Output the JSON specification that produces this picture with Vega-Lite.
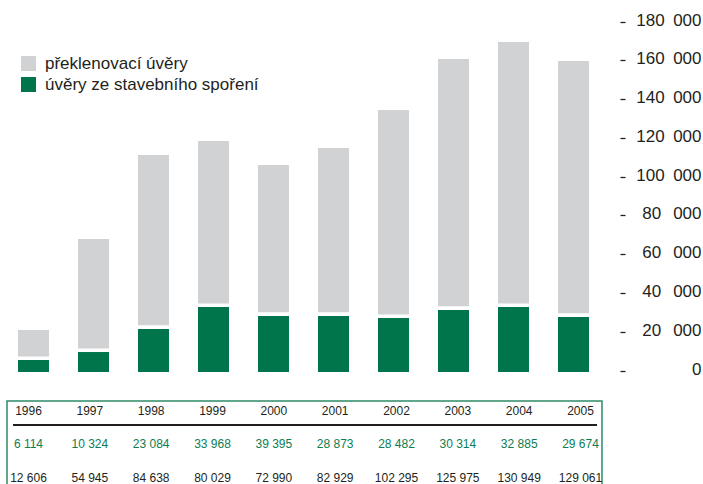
{
  "$schema": "https://vega.github.io/schema/vega-lite/v6.json",
  "padding": {"left": 6, "top": 11, "right": 0, "bottom": 0},
  "background": "white",
  "config": {"font": "Liberation Sans", "view": {"stroke": null}, "axis": {"labelOverlap": false}},
  "spacing": 23,
  "datasets": {
    "sloupce": [
      {"rok": "1996", "stavebni": 6200, "celkem": 21700},
      {"rok": "1997", "stavebni": 10300, "celkem": 68600},
      {"rok": "1998", "stavebni": 22200, "celkem": 111900},
      {"rok": "1999", "stavebni": 33500, "celkem": 119100},
      {"rok": "2000", "stavebni": 28900, "celkem": 106800},
      {"rok": "2001", "stavebni": 28900, "celkem": 115500},
      {"rok": "2002", "stavebni": 27800, "celkem": 135100},
      {"rok": "2003", "stavebni": 32000, "celkem": 161400},
      {"rok": "2004", "stavebni": 33500, "celkem": 170200},
      {"rok": "2005", "stavebni": 28400, "celkem": 160400}
    ],
    "tabulka": [
      {"rok": "1996", "stavebni": "6 114", "preklenovaci": "12 606"},
      {"rok": "1997", "stavebni": "10 324", "preklenovaci": "54 945"},
      {"rok": "1998", "stavebni": "23 084", "preklenovaci": "84 638"},
      {"rok": "1999", "stavebni": "33 968", "preklenovaci": "80 029"},
      {"rok": "2000", "stavebni": "39 395", "preklenovaci": "72 990"},
      {"rok": "2001", "stavebni": "28 873", "preklenovaci": "82 929"},
      {"rok": "2002", "stavebni": "28 482", "preklenovaci": "102 295"},
      {"rok": "2003", "stavebni": "30 314", "preklenovaci": "125 975"},
      {"rok": "2004", "stavebni": "32 885", "preklenovaci": "130 949"},
      {"rok": "2005", "stavebni": "29 674", "preklenovaci": "129 061"}
    ]
  },
  "vconcat": [
    {
      "width": 600,
      "height": 349,
      "data": {"name": "sloupce"},
      "layer": [
        {
          "mark": {"type": "bar", "size": 31, "xOffset": -3.5},
          "encoding": {
            "x": {"field": "rok", "type": "ordinal", "scale": {"type": "band", "paddingInner": 0, "paddingOuter": 0}, "axis": null},
            "y": {
              "field": "celkem", "type": "quantitative",
              "scale": {"domain": [0, 180000], "nice": false, "zero": true},
              "axis": {
                "orient": "right", "title": null, "domain": false, "grid": false,
                "offset": 13, "tickSize": 5, "tickWidth": 1.3, "tickColor": "#231f20",
                "tickOffset": -1.5, "labelOffset": -1.5, "tickCount": 10,
                "labelAlign": "right", "labelBaseline": "middle", "labelPadding": 76,
                "labelFontSize": 17, "labelColor": "#231f20", "labelFlush": false, "labelOverlap": false,
                "values": [0, 20000, 40000, 60000, 80000, 100000, 120000, 140000, 160000, 180000],
                "labelExpr": "datum.value == 0 ? '0' : (datum.value >= 100000 ? replace(format(datum.value, ','), ',', '\u2002') : replace(format(datum.value, ','), ',', '\u2002\u2009'))"
              }
            },
            "color": {
              "datum": "překlenovací úvěry", "type": "nominal",
              "scale": {"domain": ["překlenovací úvěry", "úvěry ze stavebního spoření"], "range": ["#d1d2d4", "#00744b"]},
              "legend": {
                "orient": "none", "legendX": 13, "legendY": 32, "title": null,
                "symbolType": "square", "symbolSize": 225, "symbolStrokeWidth": 0, "symbolOpacity": 1,
                "labelFontSize": 17, "labelColor": "#231f20", "labelOffset": 8, "rowPadding": 3, "labelLimit": 400
              }
            }
          }
        },
        {
          "mark": {"type": "bar", "size": 31, "xOffset": -3.5},
          "encoding": {
            "x": {"field": "rok", "type": "ordinal"},
            "y": {"field": "stavebni", "type": "quantitative"},
            "color": {"datum": "úvěry ze stavebního spoření", "type": "nominal"}
          }
        },
        {
          "mark": {"type": "tick", "color": "white", "opacity": 1, "thickness": 3.6, "size": 35, "yOffset": -1.8, "xOffset": -3.5},
          "encoding": {
            "x": {"field": "rok", "type": "ordinal"},
            "y": {"field": "stavebni", "type": "quantitative"}
          }
        }
      ]
    },
    {
      "width": 595,
      "height": 86,
      "data": {"name": "tabulka"},
      "view": {"stroke": "#2e8b66", "strokeWidth": 1.5},
      "layer": [
        {
          "mark": {"type": "text", "fontSize": 12, "color": "#231f20", "yOffset": 0, "align": "center", "baseline": "middle"},
          "encoding": {
            "x": {"field": "rok", "type": "ordinal", "scale": {"type": "point", "padding": 0.35}, "axis": null},
            "y": {"datum": "rok", "type": "nominal", "scale": {"type": "point", "padding": 0.323, "domain": ["rok", "stavebni", "preklenovaci"]}, "axis": null},
            "text": {"field": "rok"}
          }
        },
        {
          "mark": {"type": "text", "fontSize": 12, "color": "#0d7d52", "yOffset": 0, "align": "center", "baseline": "middle"},
          "encoding": {
            "x": {"field": "rok", "type": "ordinal"},
            "y": {"datum": "stavebni", "type": "nominal"},
            "text": {"field": "stavebni"}
          }
        },
        {
          "mark": {"type": "text", "fontSize": 12, "color": "#231f20", "yOffset": 1, "align": "center", "baseline": "middle"},
          "encoding": {
            "x": {"field": "rok", "type": "ordinal"},
            "y": {"datum": "preklenovaci", "type": "nominal"},
            "text": {"field": "preklenovaci"}
          }
        },
        {
          "mark": {"type": "rule", "color": "#231f20", "strokeWidth": 1.3, "yOffset": 13.5, "xOffset": -15.5, "x2Offset": 16.5},
          "encoding": {
            "x": {"datum": "1996", "type": "ordinal"},
            "x2": {"datum": "2005"},
            "y": {"datum": "rok", "type": "nominal"}
          }
        }
      ]
    }
  ]
}
